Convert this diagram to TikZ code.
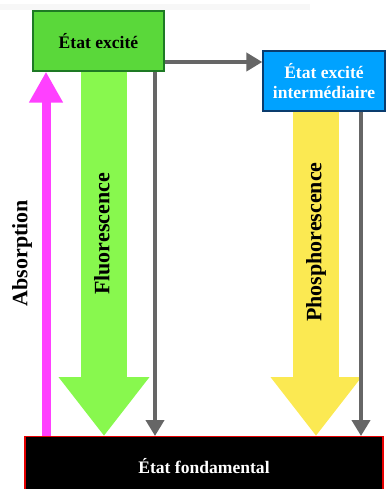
\documentclass[tikz,border=0pt]{standalone}
\usepackage{fontspec}
\setmainfont{Liberation Serif}
\usepackage{xcolor}
\usetikzlibrary{positioning, arrows.meta}
\definecolor{excgreen}{HTML}{5AD83A}
\definecolor{excborder}{HTML}{1E7A24}
\definecolor{intblue}{HTML}{00A2FF}
\definecolor{intborder}{HTML}{0A3C6E}
\definecolor{fluogreen}{HTML}{88F84E}
\definecolor{phosyellow}{HTML}{FBE952}
\definecolor{absmagenta}{HTML}{FF40FF}
\definecolor{relaxgray}{HTML}{666666}

\begin{document}
\begin{tikzpicture}[x=0.02cm, y=-0.02cm,
    levelbox/.style={rectangle, draw, line width=0.8pt, align=center, font=\fontsize{10}{11.5}\selectfont\bfseries, inner sep=0pt},
    fatarrow/.style={line width=0.92cm, -{Triangle[width=1.74cm, length=1.18cm]}},
    thinarrow/.style={relaxgray, line width=0.08cm, -{Triangle[width=0.36cm, length=0.32cm]}},
    vlabel/.style={rotate=90, font=\fontsize{12.5}{14}\selectfont\bfseries, inner sep=0pt}
]
    \useasboundingbox (0,0) rectangle (385,489);

    % faint strip at the top
    \fill[black!3] (0,4) rectangle (310,10);

    % Energy levels
    \node[levelbox, fill=excgreen, draw=excborder, minimum width=2.62cm, minimum height=1.2cm] (excite) at (98.5,41) {État excité};
    \node[levelbox, fill=intblue, draw=intborder, text=white, minimum width=2.44cm, minimum height=1.2cm] (inter) at (324,81) {État excité\\intermédiaire};
    \node[levelbox, fill=black, draw=red!90!black, text=white, minimum width=7.16cm, minimum height=1.3cm, anchor=north] (fond) at (204,436) {};
    \node[font=\fontsize{10}{11.5}\selectfont\bfseries, text=white] (fondtxt) at (204,466) {État fondamental};

    % columns of the transitions
    \coordinate (ax) at (46,0);
    \coordinate (fx) at (104,0);
    \coordinate (gx) at (155,0);
    \coordinate (px) at (316,0);
    \coordinate (qx) at (361,0);
    \coordinate (hy) at (0,62);

    % Absorption
    \draw[absmagenta, line width=0.18cm, -{Triangle[width=0.64cm, length=0.62cm]}] (ax |- fond.north) -- (ax |- excite.south);
    % Fluorescence and phosphorescence
    \draw[fatarrow, fluogreen] (fx |- excite.south) -- (fx |- fond.north);
    \draw[fatarrow, phosyellow] (px |- inter.south) -- (px |- fond.north);
    % Non-radiative paths
    \draw[thinarrow] (gx |- excite.south) -- (gx |- fond.north);
    \draw[thinarrow] (qx |- inter.south) -- (qx |- fond.north);
    \draw[thinarrow] (excite.east |- hy) -- (inter.west |- hy);

    % Labels
    \node[vlabel] (labs) at (22,253) {Absorption};
    \node[vlabel] (lfluo) at (102,234) {Fluorescence};
    \node[vlabel] (lphos) at (316,242) {Phosphorescence};
\end{tikzpicture}
\end{document}
